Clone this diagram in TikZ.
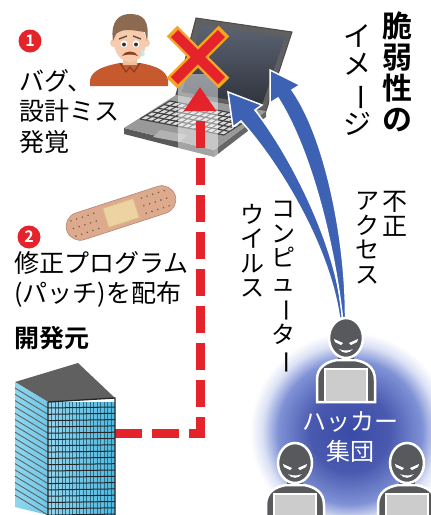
\documentclass[tikz,border=0pt]{standalone}
\usepackage{fontspec}
\usepackage{graphicx}
\setmainfont{Noto Sans CJK JP}[BoldFont={Noto Sans CJK JP Bold}]
\usetikzlibrary{arrows.meta,calc}

\definecolor{alertred}{HTML}{E4232B}
\definecolor{xorange}{HTML}{F6A623}
\definecolor{attackblue}{HTML}{3D62B4}
\definecolor{hackgray}{HTML}{58595C}
\definecolor{skin}{HTML}{F6CBAE}
\definecolor{hair}{HTML}{8C6A50}
\definecolor{shirt}{HTML}{C65A2E}
\definecolor{plaster}{HTML}{DDAA8E}
\definecolor{pad}{HTML}{EBD3A2}
\definecolor{glass}{HTML}{4DB8E0}
\definecolor{glasslight}{HTML}{8ED6EE}
\definecolor{glowblue}{HTML}{3A4BA8}
\definecolor{glowmid}{HTML}{7F91D6}
\definecolor{glowpale}{HTML}{DCE2F5}
\definecolor{screentop}{HTML}{5C6372}
\definecolor{screenbot}{HTML}{2F343D}

\pgfdeclareradialshading{hackglow}{\pgfpoint{0bp}{0bp}}{%
  color(0bp)=(glowblue); color(10bp)=(glowblue!92!white);
  color(18bp)=(glowmid); color(22bp)=(glowpale); color(25bp)=(white); color(50bp)=(white)}

% long vowel mark for vertical lines
\newcommand{\chon}{\rotatebox[origin=c]{-90}{ー}}

\tikzset{
  txt/.style={inner sep=0pt, anchor=north west, align=left, font=\fontsize{25}{30.5}\selectfont},
  tate/.style={inner sep=0pt, anchor=north, align=center, font=\fontsize{24}{24.5}\selectfont},
  numdot/.style={circle, fill=alertred, text=white, inner sep=0pt, minimum size=23pt,
    font=\bfseries\fontsize{16}{16}\selectfont},
  hacker/.pic={
    \fill[black!75] (-8,15) rectangle (8,26);
    \filldraw[fill=hackgray, draw=white, line width=2.5pt] (-29,64) -- (-29,42)
      .. controls (-29,29) and (-20,24) .. (-9,22) -- (9,22)
      .. controls (20,24) and (29,29) .. (29,42) -- (29,64) -- cycle;
    \filldraw[fill=hackgray, draw=white, line width=2.5pt] (0,0) ellipse (17 and 20);
    \fill[white] (-12,1) -- (-3,5) -- (-5,7) -- (-11,4) -- cycle;
    \fill[white] (12,1) -- (3,5) -- (5,7) -- (11,4) -- cycle;
    \fill[white] (-7,11) .. controls (-3,16) and (3,16) .. (7,11)
      .. controls (3,13) and (-3,13) .. (-7,11);
    \filldraw[fill=gray!40, draw=white, line width=2pt] (-21,31) rectangle (21,64);
  }
}

\begin{document}
\begin{tikzpicture}[x=1pt,y=-1pt]
\fill[white] (0,0) rectangle (431,515);
\clip (0,0) rectangle (431,515);

% worried user
\fill[shirt] (90,86) -- (90,80) .. controls (92,70) and (104,66) .. (120,63)
  -- (140,63) .. controls (156,66) and (166,70) .. (168,80) -- (168,86) -- cycle;
\fill[skin!85!brown] (123,52) rectangle (137,65);
\draw[shirt!65!black, line width=1pt] (120,63) -- (126,72) -- (130,67) -- (134,72) -- (140,63);
\fill[skin] (114,43) circle (4) (146,43) circle (4);
\fill[skin] (130,42) ellipse (16 and 20);
\fill[hair] (113,41) .. controls (110,20) and (120,14) .. (130,14)
  .. controls (143,14) and (150,20) .. (147,41) -- (145,32)
  .. controls (135,31) and (124,27) .. (116,34) -- cycle;
\fill[white] (124,44) circle (3.5) (136,44) circle (3.5);
\fill[black!80] (124,44.5) circle (2) (136,44.5) circle (2);
\draw[hair!70!black, line width=1.3pt] (119,39) -- (127,36) (133,36) -- (141,39);
\fill[shirt!70!black] (122,56) .. controls (125,50) and (135,50) .. (138,56)
  .. controls (134,54) and (126,54) .. (122,56);
\fill[cyan!25] (142,49) .. controls (140,53) and (141,56) .. (143,56)
  .. controls (145,56) and (146,53) .. (142,49);

% laptop
\filldraw[fill=gray!75!black, draw=gray!60!black, line width=1pt] (196,18) -- (292,32) -- (266,111) -- (176,95) -- cycle;
\shade[top color=screentop, bottom color=screenbot] (201,25) -- (285,37) -- (262,105) -- (182,92) -- cycle;
\fill[gray!70!black] (124,128) -- (214,150) -- (214,157) -- (124,134) -- cycle;
\fill[gray!80!black] (214,150) -- (266,111) -- (266,117) -- (214,157) -- cycle;
\fill[gray!80] (176,95) -- (266,111) -- (214,150) -- (124,128) -- cycle;
\coordinate (k1) at (170,101);
\coordinate (k2) at (252,117);
\coordinate (k3) at (224,135);
\coordinate (k4) at (140,119);
\fill[gray!30] (k1) -- (k2) -- (k3) -- (k4) -- cycle;
\foreach \t in {0,0.2,...,1.01}
  \draw[black!75, line width=1.2pt] ($(k1)!\t!(k4)$) -- ($(k2)!\t!(k3)$);
\foreach \s in {0,0.0714,...,1.01}
  \draw[black!75, line width=1pt] ($(k1)!\s!(k2)$) -- ($(k4)!\s!(k3)$);
\fill[gray!60] (160,130) -- (187,135) -- (180,142) -- (153,137) -- cycle;

% glow strip and patch route
\fill[white, opacity=0.45] (178,74) rectangle (218,162);
\coordinate (devout) at (115,433);
\coordinate (hit) at (200,87);
\draw[alertred, line width=9pt, dash pattern=on 27pt off 10pt,
  -{Triangle[length=24pt,width=31pt]}] (devout) -| (hit);

% the X
\draw[xorange, line width=15pt] (172,31) -- (224,83) (224,31) -- (172,83);
\draw[alertred, line width=10pt] (174.5,33.5) -- (221.5,80.5) (221.5,33.5) -- (174.5,80.5);

% attacks from the group
\coordinate (hk) at (342,318);
\filldraw[fill=attackblue, draw=white, line width=1.5pt]
  ($(hk)+(-2.5,0)$) .. controls (330,248) and (280,164) .. (241,121) -- (233,127)
  -- (228,92) -- (262,105) -- (255,110) .. controls (291,156) and (338,248) .. ($(hk)+(0.5,0)$) -- cycle;
\filldraw[fill=attackblue, draw=white, line width=1.5pt]
  ($(hk)+(0.5,0)$) .. controls (334,243) and (311,150) .. (278,98) -- (270,103)
  -- (270,70) -- (300,85) -- (292,90) .. controls (326,138) and (346,243) .. ($(hk)+(3.5,0)$) -- cycle;

% developer building
\fill[gray!75!black] (15,382) -- (78,363) -- (115,398) -- (48,402) -- cycle;
\shade[left color=glasslight, right color=glass!80!white] (15,382) -- (48,402) -- (48,515) -- (15,507) -- cycle;
\shade[left color=glass!60!white, right color=glass] (48,402) rectangle (115,515);
\foreach \x in {51.5,55,...,113}
  \draw[glass!60!black, line width=0.4pt] (\x,402) -- (\x,515);
\foreach \k in {0,...,17}{
  \draw[black!65, line width=0.8pt] (15,388+6.3*\k) -- (48,408+6.3*\k);
  \draw[black!85, line width=1pt] (48,408+6.3*\k) -- (115,407+6.3*\k);
}
\draw[black!85, line width=1.3pt] (48,402) -- (115,398) -- (115,515) (48,402) -- (48,515);

% hacker group
\shade[shading=hackglow] (350,432) circle (100);
\pic at (346,338) {hacker};
\pic at (295,463) {hacker};
\pic at (407,463) {hacker};
\node[text=white, align=center, inner sep=0pt, font=\fontsize{24}{30}\selectfont] (group) at (350,437) {ハッカー\\集団};

% labels
\node[numdot] (n1) at (30,41) {1};
\node[txt] (bug) at (19,69) {バグ、\\設計ミス\\発覚};
\begin{scope}[shift={(121,213)}, rotate=18]
  \filldraw[fill=plaster, draw=plaster!80!black, line width=0.6pt, rounded corners=14pt] (-57,-14) rectangle (57,14);
  \filldraw[fill=pad, draw=pad!70!brown, line width=0.8pt] (-16,-10) rectangle (16,10);
  \foreach \x in {-50,-44,...,-24,24,30,...,50}
    \foreach \y in {-8,0,8}
      \fill[plaster!55!black] (\x,\y) circle (0.9);
\end{scope}
\node[numdot] (n2) at (29,237) {2};
\node[txt] (patch) at (14,251) {修正プログラム\\(パッチ)を配布};
\node[txt, font=\bfseries\fontsize{25}{30}\selectfont] (dev) at (14,326) {開発元};

\node[tate, font=\bfseries\fontsize{30}{31}\selectfont] (title1) at (397,12) {脆\\弱\\性\\の};
\node[tate, font=\fontsize{28}{28.5}\selectfont] (title2) at (357,24) {イ\\メ\\\chon\\ジ};
\node[tate, font=\fontsize{25}{25.5}\selectfont] (acc1) at (395,191) {不\\正};
\node[tate] (acc2) at (367,192) {ア\\ク\\セ\\ス};
\node[tate] (vir1) at (283,201) {コ\\ン\\ピ\\ュ\\\chon\\タ\\\chon};
\node[tate] (vir2) at (252,204) {ウ\\イ\\ル\\ス};
\end{tikzpicture}
\end{document}
